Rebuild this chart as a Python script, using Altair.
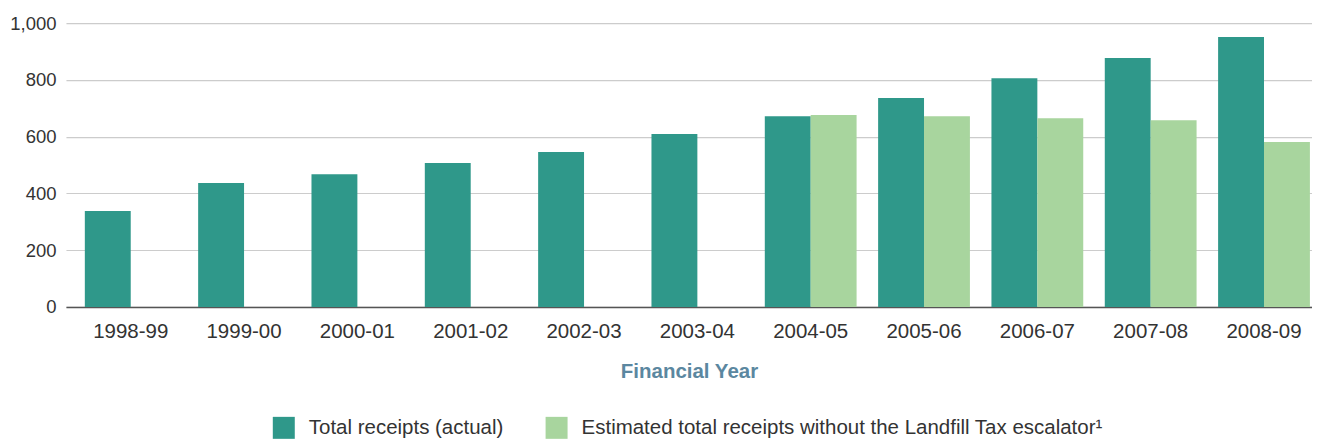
import altair as alt
import pandas as pd

years = ["1998-99", "1999-00", "2000-01", "2001-02", "2002-03", "2003-04",
         "2004-05", "2005-06", "2006-07", "2007-08", "2008-09"]
actual = [338, 437, 468, 507, 546, 609, 672, 736, 806, 877, 951]
estimated = [None, None, None, None, None, None, 676, 672, 665, 658, 581]

s1 = "Total receipts (actual)"
s2 = "Estimated total receipts without the Landfill Tax escalator¹"

rows = []
for y, a, e in zip(years, actual, estimated):
    rows.append({"year": y, "series": s1, "value": a})
    if e is not None:
        rows.append({"year": y, "series": s2, "value": e})
df = pd.DataFrame(rows)

font = "Liberation Sans"

chart = alt.Chart(df).mark_bar().encode(
    x=alt.X("year:N", sort=years,
            scale=alt.Scale(paddingInner=0.19, paddingOuter=0.0925, align=0.9),
            axis=alt.Axis(title="Financial Year", labelAngle=0, labelFontSize=20.5,
                          labelColor="#333", labelFont=font, labelPadding=15,
                          ticks=False, domainColor="#555", domainWidth=1.5,
                          titleFont=font, titleFontSize=20.5, titleFontWeight="bold",
                          titleColor="#5B87A0", titlePadding=19)),
    xOffset=alt.XOffset("series:N", sort=[s1, s2], scale=alt.Scale(domain=[s1, s2])),
    y=alt.Y("value:Q", scale=alt.Scale(domain=[0, 1000]),
            axis=alt.Axis(title=None, values=[0, 200, 400, 600, 800, 1000], format=",d",
                          labelFontSize=18.5, labelColor="#333", labelFont=font,
                          ticks=False, domain=False, labelPadding=10,
                          gridColor="#cccccc", gridWidth=1.2)),
    color=alt.Color("series:N", sort=[s1, s2],
                    scale=alt.Scale(domain=[s1, s2], range=["#2F988A", "#A8D59E"]),
                    legend=alt.Legend(title=None, orient="none", direction="horizontal",
                                      legendX=207, legendY=394,
                                      symbolType="square", symbolSize=484,
                                      symbolStrokeWidth=0, labelFontSize=20.5,
                                      labelFont=font, labelColor="#333", labelOffset=14,
                                      columnPadding=42, labelLimit=700)),
).properties(
    width=1247, height=284,
    padding={"left": 1, "right": 0, "top": 6, "bottom": 5}
).configure_view(stroke=None)

chart.save("out.html", embed_options={"renderer": "svg", "actions": False})
